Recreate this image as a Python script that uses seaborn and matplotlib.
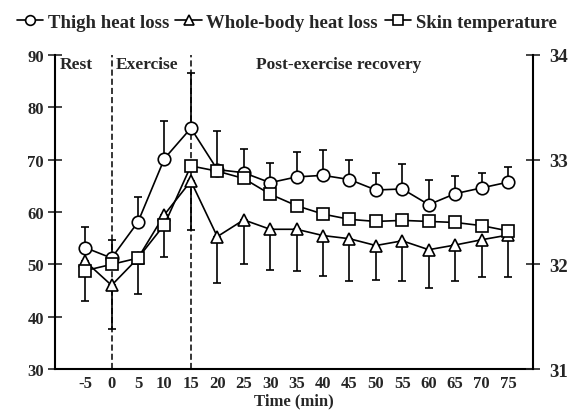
import matplotlib
matplotlib.use('Agg')
import matplotlib.pyplot as plt
import seaborn as sns
import pandas as pd

sns.set_theme(style='ticks')
plt.rcParams['font.family'] = ['Liberation Serif', 'DejaVu Serif']
plt.rcParams['font.weight'] = 'bold'
plt.rcParams['axes.unicode_minus'] = False

time = [-5, 0, 5, 10, 15, 20, 25, 30, 35, 40, 45, 50, 55, 60, 65, 70, 75]
thigh = [53.2, 51.2, 58.1, 70.2, 76.0, 68.1, 67.5, 65.6, 66.7, 67.0, 66.2, 64.2, 64.4, 61.4, 63.5, 64.6, 65.7]
thigh_sd = [3.9, 3.4, 4.7, 7.1, 10.5, 7.3, 4.6, 3.8, 4.8, 4.8, 3.7, 3.3, 4.8, 4.7, 3.4, 2.8, 2.8]
whole = [50.6, 46.0, 51.2, 59.5, 65.9, 55.3, 58.5, 56.7, 56.7, 55.5, 54.9, 53.6, 54.5, 52.8, 53.7, 54.7, 55.6]
whole_sd = [7.5, 8.3, 6.8, 8.0, 9.4, 8.9, 8.5, 7.7, 8.0, 7.7, 8.0, 6.6, 7.7, 7.4, 6.9, 7.1, 8.0]
skin = [31.94, 32.00, 32.06, 32.38, 32.94, 32.89, 32.82, 32.67, 32.56, 32.48, 32.43, 32.41, 32.42, 32.41, 32.40, 32.37, 32.32]

df = pd.DataFrame({'time': time, 'thigh': thigh, 'whole': whole, 'skin': skin})

fig = plt.figure(figsize=(5.73, 4.14), dpi=100)
ax = fig.add_axes([0.096, 0.106, 0.834, 0.759])
ax2 = ax.twinx()

mk = dict(color='black', markerfacecolor='white', markeredgecolor='black',
          markeredgewidth=1.2, linewidth=1.2)

# one-sided error bars
ax.errorbar(time, thigh, yerr=[[0] * len(time), thigh_sd], fmt='none',
            ecolor='black', elinewidth=1.2, capsize=3, capthick=1.2, zorder=2)
ax.errorbar(time, whole, yerr=[whole_sd, [0] * len(time)], fmt='none',
            ecolor='black', elinewidth=1.2, capsize=3, capthick=1.2, zorder=2)

sns.lineplot(data=df, x='time', y='whole', marker='^', markersize=8.5, ax=ax, zorder=3, **mk)
sns.lineplot(data=df, x='time', y='thigh', marker='o', markersize=9, ax=ax, zorder=4, **mk)
sns.lineplot(data=df, x='time', y='skin', marker='s', markersize=8, ax=ax2, zorder=3, **mk)

for x in [0, 15]:
    ax.axvline(x, color='black', linestyle=(0, (4, 2)), linewidth=1.1, zorder=1)

ax.set_xlim(-10.7, 79.7)
ax.set_ylim(30, 90)
ax2.set_ylim(31, 34)
ax.set_xticks(time)
ax.set_yticks(range(30, 91, 10))
ax2.set_yticks([31, 32, 33, 34])
ax.set_xlabel('Time (min)', fontsize=12, fontweight='bold', labelpad=1)
ax.set_ylabel('')
ax2.set_ylabel('')

for a in (ax, ax2):
    a.spines['top'].set_visible(False)
    for s in a.spines.values():
        s.set_linewidth(1.5)
        s.set_color('black')
ax.spines['right'].set_visible(False)
ax2.spines['left'].set_visible(False)
ax2.spines['bottom'].set_visible(False)

ax.tick_params(axis='x', length=0, labelsize=12, pad=4)
ax.tick_params(axis='y', direction='inout', length=10, width=1.2, labelsize=12, pad=3)
ax2.tick_params(axis='y', direction='inout', length=10, width=1.2, labelsize=13.5, pad=7)
for lbl in ax.get_xticklabels() + ax.get_yticklabels() + ax2.get_yticklabels():
    lbl.set_fontweight('bold')

ax.text(-9.8, 88.3, 'Rest', fontsize=12.5, fontweight='bold', va='center')
ax.text(0.8, 88.3, 'Exercise', fontsize=12.5, fontweight='bold', va='center')
ax.text(43, 88.3, 'Post-exercise recovery', fontsize=12.5, fontweight='bold',
        va='center', ha='center')

handles = [
    plt.Line2D([], [], marker='o', markersize=7, **mk),
    plt.Line2D([], [], marker='^', markersize=7, **mk),
    plt.Line2D([], [], marker='s', markersize=6.5, **mk),
]
fig.legend(handles, ['Thigh heat loss', 'Whole-body heat loss', 'Skin temperature'],
           loc='upper center', bbox_to_anchor=(0.5, 1.005), ncol=3, frameon=False,
           handlelength=1.4, handletextpad=0.25, columnspacing=0.35,
           prop={'size': 13.5, 'weight': 'bold'})

fig.savefig('out.png', dpi=100)
